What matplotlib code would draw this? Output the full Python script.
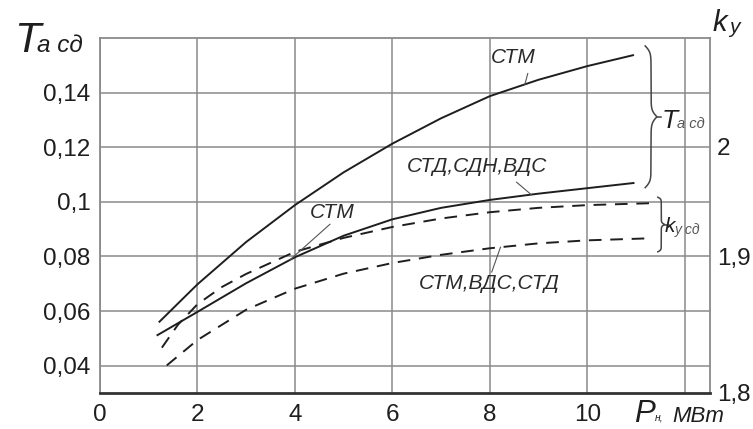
import numpy as np
import matplotlib
matplotlib.use("Agg")
import matplotlib.pyplot as plt

# Rated power, MW, and the curves read against it
p_ta_stm = [1.22, 2, 3, 4, 5, 6, 7, 8, 9, 10, 10.94]
ta_stm = [0.0561, 0.0698, 0.0853, 0.0988, 0.1108, 0.1213, 0.1306, 0.1387, 0.1447, 0.1497, 0.1537]

p_ta_std = [1.18, 2, 3, 4, 5, 6, 7, 8, 9, 10, 10.95]
ta_std = [0.0512, 0.0597, 0.0702, 0.0797, 0.0876, 0.0936, 0.0978, 0.1007, 0.1030, 0.1050, 0.1069]

p_ky_stm = [1.27, 1.6, 2, 2.5, 3, 4, 5, 6, 7, 8, 9, 10, 11.3]
ky_stm = [0.0466, 0.0550, 0.0625, 0.0688, 0.0736, 0.0817, 0.0868, 0.0908, 0.0939, 0.0962, 0.0978, 0.0988, 0.0995]

p_ky_vds = [1.37, 2, 3, 4, 5, 6, 7, 8, 9, 10, 11.2]
ky_vds = [0.0401, 0.0494, 0.0605, 0.0682, 0.0737, 0.0776, 0.0806, 0.0830, 0.0848, 0.0859, 0.0866]

x_ticks = [0, 2, 4, 6, 8, 10, 12]
x_tick_labels = ["0", "2", "4", "6", "8", "10", ""]
y_ticks = [0.04, 0.06, 0.08, 0.10, 0.12, 0.14]
y_tick_labels = ["0,04", "0,06", "0,08", "0,1", "0,12", "0,14"]
ky_tick_pos = [0.03, 0.08, 0.1203]
ky_tick_labels = ["1,8", "1,9", "2"]

W, H = 753, 429
FONT = "Liberation Sans"
INK = "#1e1e1e"
GRID = "#8a8a8a"

fig = plt.figure(figsize=(W / 100, H / 100), dpi=100)
fig.patch.set_facecolor("white")
ax = fig.add_axes([100 / W, 1 - 393 / H, 610 / W, 355 / H])
ax.set_xlim(0, 12.52)
ax.set_ylim(0.03, 0.16)

ax.set_xticks(x_ticks)
ax.set_xticklabels(x_tick_labels)
ax.set_yticks(y_ticks)
ax.set_yticklabels(y_tick_labels)
ax.tick_params(length=0, labelsize=17.5, colors=INK)
ax.tick_params(axis="x", pad=8)
ax.tick_params(axis="y", pad=7)
for lab in ax.get_xticklabels() + ax.get_yticklabels():
    lab.set_fontfamily(FONT)
ax.grid(True, color=GRID, lw=1.1)
ax.set_axisbelow(True)
for side in ("left", "top", "right"):
    ax.spines[side].set_color(GRID)
    ax.spines[side].set_linewidth(1.3)
ax.spines["bottom"].set_color("#333333")
ax.spines["bottom"].set_linewidth(2.0)

# secondary k_y scale on the right
ax2 = ax.twinx()
ax2.set_ylim(ax.get_ylim())
ax2.set_yticks(ky_tick_pos)
ax2.set_yticklabels(ky_tick_labels)
ax2.tick_params(length=0, labelsize=17.5, colors=INK, pad=5)
for lab in ax2.get_yticklabels():
    lab.set_fontfamily(FONT)
for s in ax2.spines.values():
    s.set_visible(False)

lw = 1.4
dash = (0, (6.5, 4.5))
ax.plot(p_ta_stm, ta_stm, color=INK, lw=lw)
ax.plot(p_ta_std, ta_std, color=INK, lw=lw)
ax.plot(p_ky_stm, ky_stm, color=INK, lw=lw, linestyle=dash)
ax.plot(p_ky_vds, ky_vds, color=INK, lw=lw, linestyle=dash)

lab_kw = dict(fontfamily=FONT, style="italic", color="#2a2a2a", fontsize=15)


def leader(x0, y0, px, cx, cy):
    """Thin pointer line from a caption to the curve (cx, cy) at power px."""
    ax.plot([x0, px], [y0, np.interp(px, cx, cy)], color="#555555", lw=0.8)


ax.text(8.48, 0.1528, "СТМ", ha="center", va="center", **lab_kw)
leader(8.78, 0.1470, 8.72, p_ta_stm, ta_stm)

ax.text(7.73, 0.1130, "СТД,СДН,ВДС", ha="center", va="center", **lab_kw)
leader(8.55, 0.1072, 8.85, p_ta_std, ta_std)

ax.text(4.76, 0.0960, "СТМ", ha="center", va="center", **lab_kw)
leader(4.72, 0.0918, 3.90, p_ta_std, ta_std)

ax.text(8.0, 0.0700, "СТМ,ВДС,СТД", ha="center", va="center", **lab_kw)
leader(8.04, 0.0743, 8.22, p_ky_vds, ky_vds)


def brace(x0, width, y_top, y_bot, beta=45.0):
    """Right-facing curly brace spanning y_top..y_bot starting at x0."""
    t = np.linspace(0, 0.5, 120)
    v = 1 / (1 + np.exp(-beta * (t - t[0]))) + 1 / (1 + np.exp(-beta * (t - t[-1]))) - 0.5
    v = np.concatenate((v, v[-2::-1]))
    tt = np.linspace(0, 1, v.size)
    ys = y_top + (y_bot - y_top) * tt
    ax.plot(x0 + width * v, ys, color="#444444", lw=1.1, clip_on=False)
    return x0 + width, y_top + (y_bot - y_top) / 2


tip_x, tip_y = brace(11.19, 0.24, 0.1571, 0.1052)
ax.plot([tip_x, tip_x + 0.08], [tip_y, tip_y], color="#444444", lw=1.1, clip_on=False)
tip2_x, tip2_y = brace(11.45, 0.14, 0.1017, 0.0817, beta=60.0)
ax.plot([tip2_x, tip2_x + 0.08], [tip2_y, tip2_y], color="#444444", lw=1.1, clip_on=False)


def ftext(x, y, s, size, color=INK):
    fig.text(x / W, 1 - y / H, s, fontsize=size, fontfamily=FONT, style="italic",
             color=color, va="baseline", ha="left")


# brace captions
ftext(662, 128, "T", 19)
ftext(677, 128, "а сд", 10.5, color="#555555")
ftext(665, 232, "k", 15)
ftext(675, 234, "y сд", 10, color="#555555")

# axis titles
ftext(14, 52, "T", 31)
ftext(37, 52, "а сд", 17.5)
ftext(713, 31, "k", 21)
ftext(729, 33, "y", 15)
ftext(634, 422, "P", 22.5)
ftext(655, 421, "н,", 7.5)
ftext(672, 422, "МВт", 16)

fig.savefig("out.png", dpi=100, facecolor="white")
